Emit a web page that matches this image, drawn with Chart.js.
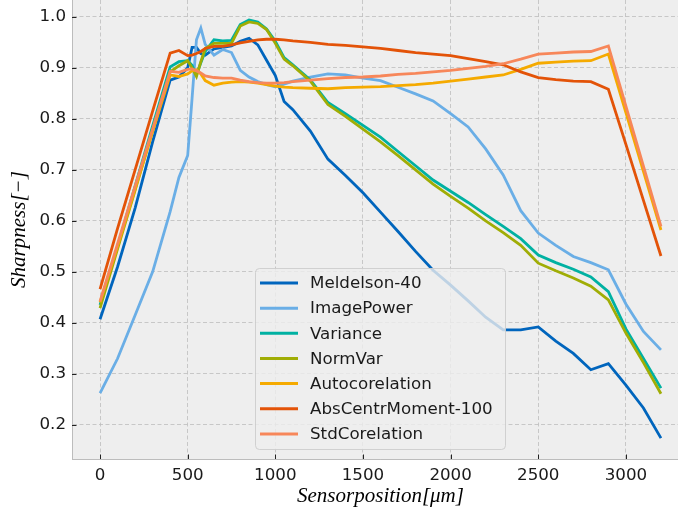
<!DOCTYPE html>
<html><head><meta charset="utf-8">
<script src="https://cdn.jsdelivr.net/npm/chart.js@4/dist/chart.umd.min.js"></script>
<style>
html,body{margin:0;padding:0;background:#fff;overflow:hidden;width:678px;height:516px}
#wrap{position:relative;width:689px;height:516px}
canvas{display:block}
</style></head>
<body><div id="wrap"><canvas id="c" width="689" height="516"></canvas></div>
<script>
// ---- data ----
const positions = [0,100,200,300,400,450,500,525,550,575,600,650,700,750,800,850,900,950,1000,1050,1100,1200,1300,1400,1500,1600,1700,1800,1900,2000,2100,2200,2300,2400,2500,2600,2700,2800,2900,3000,3100,3200];
const meldelson = [0.407,0.51,0.625,0.755,0.876, 0.882,0.900,0.940,0.940,0.928,0.925, 0.937,0.940,0.943,0.952,0.958,0.945,0.915,0.885, 0.834,0.818, 0.776,0.721,0.689,0.655,0.617,0.579,0.540,0.503,0.474,0.443,0.411,0.386,0.386,0.392,0.364,0.340,0.308,0.320,0.278,0.233,0.174];
const imagePower = [0.262,0.33,0.415,0.50,0.618, 0.685,0.728,0.840,0.955,0.978,0.946, 0.925,0.936,0.930,0.895,0.882,0.873,0.867,0.863, 0.868,0.874, 0.882,0.888,0.886,0.880,0.875,0.862,0.849,0.835,0.810,0.784,0.741,0.690,0.620,0.576,0.552,0.530,0.518,0.504,0.437,0.383,0.347];
const variance = [0.435,0.55,0.668,0.786,0.902, 0.912,0.914,0.905,0.886,0.910,0.932, 0.955,0.953,0.954,0.985,0.994,0.990,0.976,0.952, 0.920,0.906, 0.876,0.832,0.810,0.787,0.764,0.736,0.708,0.680,0.658,0.636,0.612,0.589,0.565,0.533,0.518,0.505,0.490,0.461,0.388,0.330,0.272];
const normVar = [0.429,0.545,0.66,0.777,0.892, 0.904,0.914,0.900,0.883,0.912,0.938, 0.948,0.948,0.948,0.982,0.990,0.987,0.975,0.948, 0.917,0.904, 0.874,0.828,0.805,0.780,0.755,0.728,0.700,0.672,0.648,0.625,0.600,0.577,0.552,0.517,0.502,0.488,0.472,0.445,0.380,0.322,0.261];
const autocorelation = [0.44,0.55,0.662,0.775,0.886, 0.883,0.888,0.894,0.896,0.888,0.875, 0.866,0.870,0.872,0.873,0.872,0.870,0.867,0.864, 0.862,0.861, 0.860,0.859,0.861,0.862,0.863,0.865,0.867,0.870,0.874,0.878,0.882,0.886,0.897,0.909,0.911,0.913,0.914,0.927,0.812,0.697,0.582];
const absCentrMoment = [0.466,0.585,0.70,0.815,0.929, 0.934,0.924,0.925,0.928,0.932,0.938, 0.942,0.942,0.945,0.949,0.952,0.955,0.956,0.956, 0.955,0.953, 0.950,0.946,0.944,0.941,0.938,0.934,0.930,0.927,0.924,0.918,0.912,0.906,0.892,0.881,0.877,0.874,0.873,0.858,0.750,0.640,0.531];
const stdCorelation = [0.442,0.555,0.668,0.78,0.893, 0.891,0.897,0.898,0.894,0.890,0.884, 0.881,0.880,0.880,0.876,0.873,0.871,0.870,0.870, 0.871,0.873, 0.876,0.879,0.881,0.882,0.884,0.887,0.889,0.892,0.895,0.899,0.903,0.908,0.917,0.927,0.929,0.931,0.932,0.943,0.825,0.707,0.589];
const seriesNames = ['Meldelson-40','ImagePower','Variance','NormVar','Autocorelation','AbsCentrMoment-100','StdCorelation'];
const xTicks = [0,500,1000,1500,2000,2500,3000];
const yTicks = [0.2,0.3,0.4,0.5,0.6,0.7,0.8,0.9,1.0];

// ---- styles ----
const seriesValues = [meldelson,imagePower,variance,normVar,autocorelation,absCentrMoment,stdCorelation];
const seriesColors = ['#0065bd','#6aaee6','#00b1a2','#a0ad05','#f5aa00','#e35308','#f7875a'];

const datasets = seriesValues.map((vals,i)=>({
  label: seriesNames[i],
  data: positions.map((p,j)=>({x:p,y:vals[j]})),
  borderColor: seriesColors[i],
  backgroundColor: seriesColors[i],
  borderWidth: 2.8,
  pointRadius: 0,
  tension: 0,
  fill: false,
  order: seriesValues.length - 1 - i
}));

const bgPlugin = {
  id:'bg',
  beforeDraw(chart){
    const {ctx, chartArea:a} = chart;
    ctx.save();
    ctx.fillStyle = '#eeeeee';
    ctx.fillRect(a.left, a.top, a.right-a.left, a.bottom-a.top);
    ctx.restore();
  }
};

const legendPlugin = {
  id:'boxLegend',
  afterDatasetsDraw(chart){
    const ctx = chart.ctx;
    const x0 = 255.5, y0 = 268.5, w = 250, h = 181;
    ctx.save();
    ctx.beginPath();
    ctx.roundRect(x0, y0, w, h, 4);
    ctx.fillStyle = 'rgba(238,238,238,0.8)';
    ctx.fill();
    ctx.strokeStyle = 'rgba(204,204,204,0.9)';
    ctx.lineWidth = 1;
    ctx.stroke();
    ctx.font = '16.7px "DejaVu Sans"';
    ctx.textBaseline = 'middle';
    ctx.textAlign = 'left';
    chart.data.datasets.forEach((ds,i)=>{
      const y = 283 + i*25.15;
      ctx.strokeStyle = ds.borderColor;
      ctx.lineWidth = 3;
      ctx.beginPath(); ctx.moveTo(260, y); ctx.lineTo(298, y); ctx.stroke();
      ctx.fillStyle = '#1a1a1a';
      ctx.fillText(ds.label, 310, y + 1);
    });
    ctx.restore();
  }
};

const tickPlugin = {
  id:'inTicks',
  afterDraw(chart){
    const {ctx, chartArea:a, scales} = chart;
    ctx.save();
    ctx.strokeStyle = '#222';
    ctx.lineWidth = 1;
    ctx.beginPath();
    xTicks.forEach(v=>{ const px = Math.round(scales.x.getPixelForValue(v))+0.5; ctx.moveTo(px, a.bottom); ctx.lineTo(px, a.bottom-4.5); });
    yTicks.forEach(v=>{ const py = Math.round(scales.y.getPixelForValue(v))+0.5; ctx.moveTo(a.left, py); ctx.lineTo(a.left+4.5, py); });
    ctx.stroke();
    ctx.restore();
  }
};

function noPad(s){ s.paddingTop = 0; s.paddingBottom = 0; s.paddingLeft = 0; s.paddingRight = 0; }

const tickFont = {family:'"DejaVu Sans"', size:16.7};
const gridOpts = {color:'#bdbdbd', lineWidth:0.8, drawTicks:false};

new Chart(document.getElementById('c'), {
  type:'line',
  data:{datasets},
  options:{
    responsive:false,
    animation:false,
    devicePixelRatio:1,
    layout:{padding:0},
    plugins:{legend:{display:false}, tooltip:{enabled:false}},
    scales:{
      x:{
        type:'linear', min:-160, max:3360,
        afterBuildTicks(s){ s.ticks = xTicks.map(v=>({value:v})); },
        afterFit(s){ s.height = 57; noPad(s); },
        grid:gridOpts,
        border:{display:true, color:'#bcbcbc', width:1, dash:[4,2.5]},
        ticks:{font:tickFont, color:'#1a1a1a', padding:7, autoSkip:false, maxRotation:0, callback:v=>String(v)},
        title:{display:true, text:'Sensorposition[μm]', color:'#000', font:{family:'"Liberation Serif"', style:'italic', size:21}, padding:{top:0,bottom:7}}
      },
      y:{
        type:'linear', min:0.133, max:1.033,
        afterBuildTicks(s){ s.ticks = yTicks.map(v=>({value:v})); },
        afterFit(s){ s.width = 72; noPad(s); },
        grid:gridOpts,
        border:{display:true, color:'#bcbcbc', width:1, dash:[4,2.5]},
        ticks:{font:tickFont, color:'#1a1a1a', padding:6, callback:v=>Number(v).toFixed(1)},
        title:{display:true, text:'Sharpness[−]', color:'#000', font:{family:'"Liberation Serif"', style:'italic', size:21}, padding:{top:7,bottom:0}}
      }
    }
  },
  plugins:[bgPlugin, legendPlugin, tickPlugin]
});
</script>
</body></html>
